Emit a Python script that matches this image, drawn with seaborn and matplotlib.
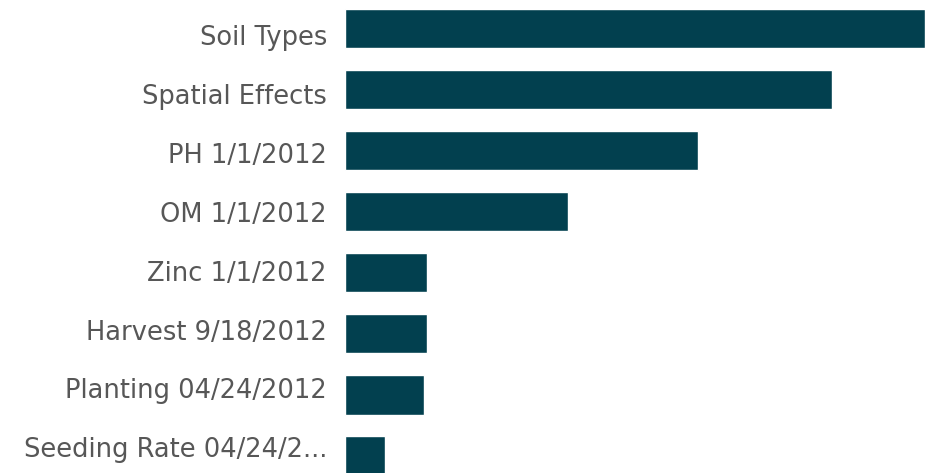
import matplotlib
matplotlib.use("Agg")
import matplotlib.pyplot as plt
import seaborn as sns
import pandas as pd

factors = [
    "Soil Types",
    "Spatial Effects",
    "PH 1/1/2012",
    "OM 1/1/2012",
    "Zinc 1/1/2012",
    "Harvest 9/18/2012",
    "Planting 04/24/2012",
    "Seeding Rate 04/24/2...",
]
importance = [580, 487, 353, 223, 82, 82, 79, 40]

bar_color = "#02404f"
label_color = "#575757"

df = pd.DataFrame({"factor": factors, "importance": importance})

sns.set_theme(style="white")
plt.rcParams["font.family"] = ["DejaVu Sans"]

fig = plt.figure(figsize=(9.25, 4.73), dpi=100)
ax = fig.add_axes([345 / 925, 0, 1 - 345 / 925, 1])

sns.barplot(
    data=df, x="importance", y="factor", orient="h",
    color=bar_color, saturation=1, width=0.64, ax=ax,
)

ax.set_xlim(0, 580)
ax.set_ylim(7.279, -0.475)
ax.set_xlabel("")
ax.set_ylabel("")
ax.set_xticks([])

# the label column is spaced a little tighter than the bar rows
label_pos = [0.1 + 0.9656 * i for i in range(len(factors))]
ax.set_yticks(label_pos, labels=factors)
ax.tick_params(axis="y", length=0, pad=13, labelsize=18.5, labelcolor=label_color)
sns.despine(ax=ax, left=True, bottom=True)

fig.savefig("out.png", dpi=100)
